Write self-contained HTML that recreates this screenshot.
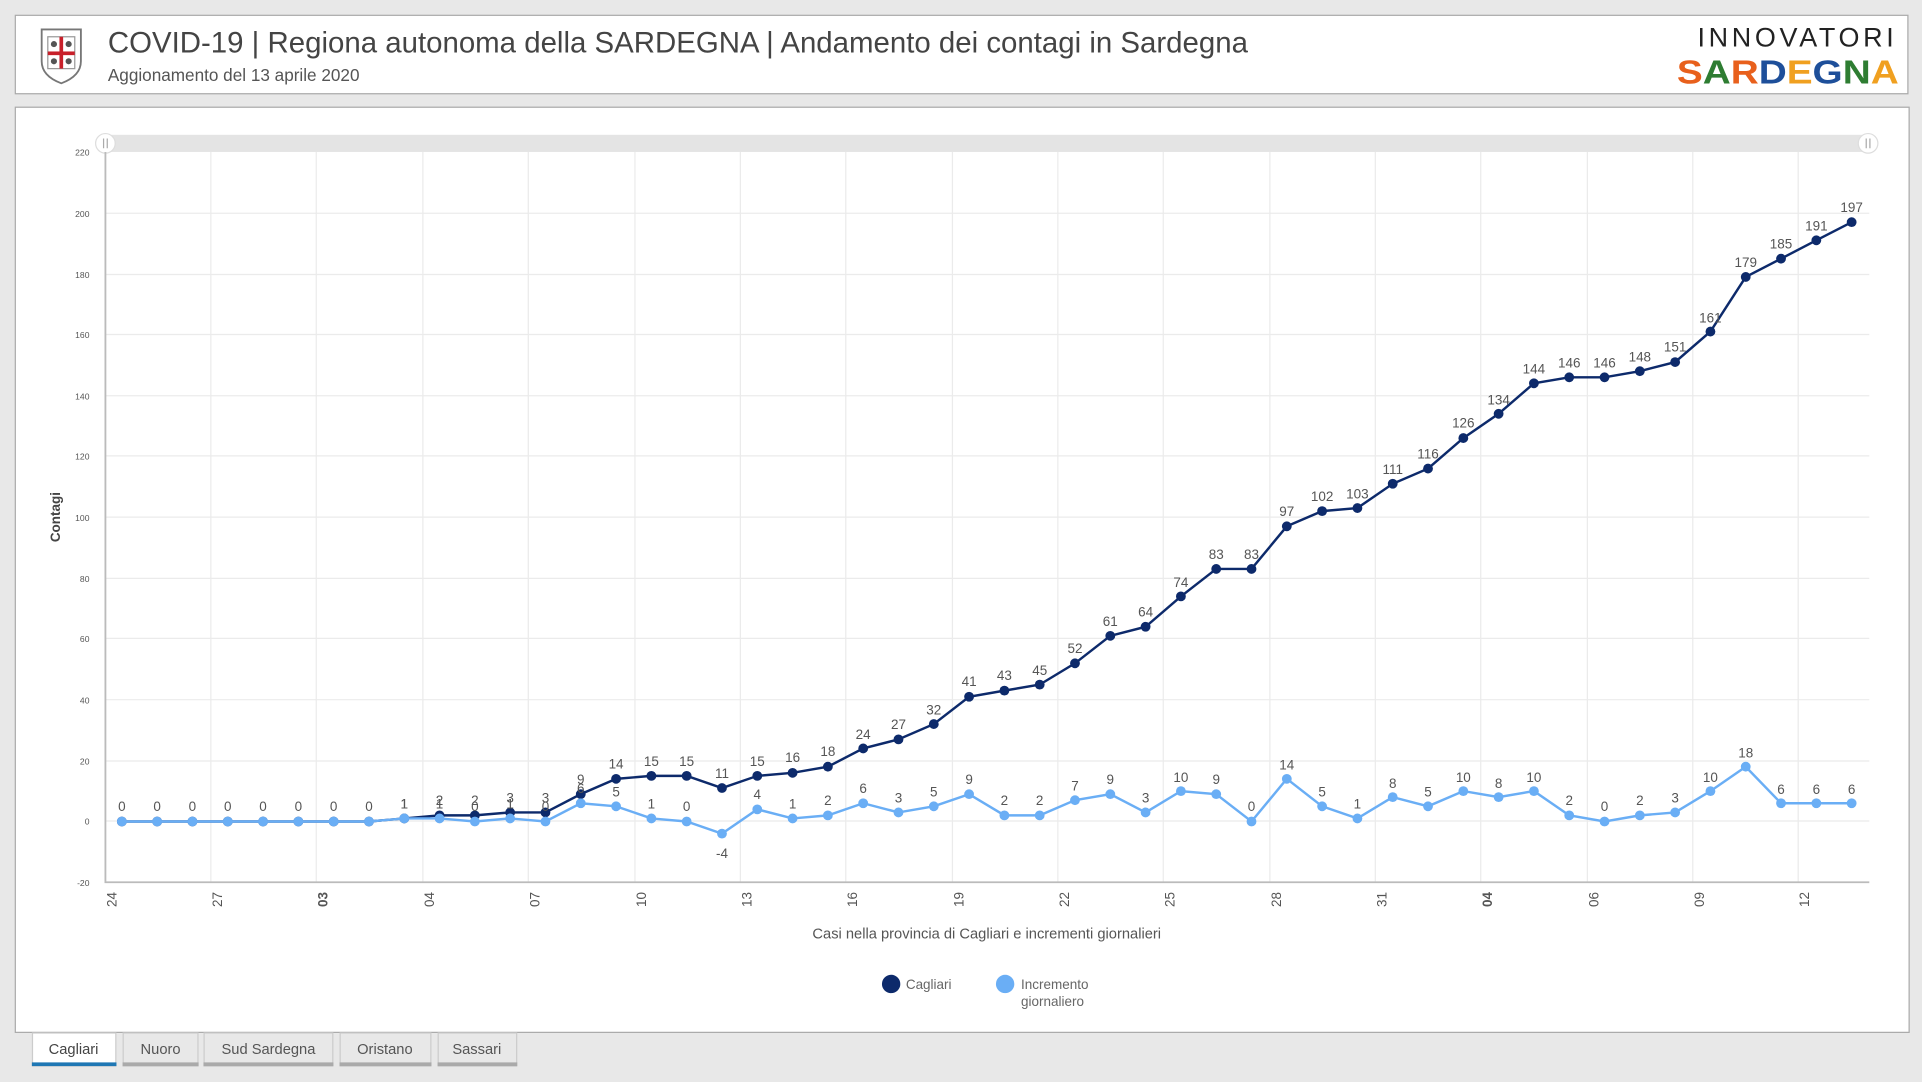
<!DOCTYPE html>
<html><head><meta charset="utf-8"><style>
html,body{margin:0;padding:0;background:#e8e8e8;}
svg{display:block;}
text{font-family:"Liberation Sans",sans-serif;}
</style></head><body>
<svg width="1922" height="1082" viewBox="0 0 1568 883" preserveAspectRatio="none" xmlns="http://www.w3.org/2000/svg">
<rect x="0" y="0" width="1568" height="883" fill="#e8e8e8"/>
<!-- header -->
<rect x="12.5" y="12.5" width="1544" height="64" fill="#fff" stroke="#aaa"/>
<g transform="translate(50,44)">
<path d="M-16,-20 L16,-20 L16,6 Q16,18 0,24 Q-16,18 -16,6 Z" fill="#fff" stroke="#777" stroke-width="1.5"/>
<rect x="-11" y="-14" width="22" height="26" fill="#fff" stroke="#999"/>
<rect x="-11" y="-2" width="22" height="3" fill="#c8202a"/><rect x="-1.5" y="-14" width="3" height="26" fill="#c8202a"/>
<circle cx="-6" cy="-8" r="2.5" fill="#555"/><circle cx="6" cy="-8" r="2.5" fill="#555"/><circle cx="-6" cy="6" r="2.5" fill="#555"/><circle cx="6" cy="6" r="2.5" fill="#555"/>
</g>
<text x="88" y="43" font-size="24" fill="#444">COVID-19 | Regiona autonoma della SARDEGNA | Andamento dei contagi in Sardegna</text>
<text x="88" y="66" font-size="14" fill="#555">Aggionamento del 13 aprile 2020</text>
<text x="1548" y="38" font-size="22" fill="#222" text-anchor="end" letter-spacing="3">INNOVATORI</text>
<text x="1368" y="68" font-size="27" font-weight="bold" textLength="181" lengthAdjust="spacingAndGlyphs"><tspan fill="#e8601c">S</tspan><tspan fill="#2e7d32">A</tspan><tspan fill="#e8601c">R</tspan><tspan fill="#1e4f9a">D</tspan><tspan fill="#f0a020">E</tspan><tspan fill="#1e4f9a">G</tspan><tspan fill="#2e7d32">N</tspan><tspan fill="#f0a020">A</tspan></text>
<!-- chart panel -->
<rect x="12.5" y="87.5" width="1545" height="755" fill="#fff" stroke="#aaa"/>
<rect x="85" y="110" width="1440" height="14" fill="#e4e4e4"/>
<circle cx="86" cy="117" r="8" fill="#fff" stroke="#ddd"/><circle cx="1524" cy="117" r="8" fill="#fff" stroke="#ddd"/>
<path d="M84.5,113v8M87.5,113v8M1522.5,113v8M1525.5,113v8" stroke="#aaa"/>
<!-- grid -->
<g stroke="#ebebeb" stroke-width="1">
<path d="M86,174H1525M86,224H1525M86,273H1525M86,323H1525M86,372H1525M86,422H1525M86,472H1525M86,521H1525M86,571H1525M86,621H1525M86,670H1525"/>
<path d="M172,124V720M258,124V720M345,124V720M431,124V720M518,124V720M604,124V720M690,124V720M777,124V720M863,124V720M949,124V720M1036,124V720M1122,124V720M1208,124V720M1295,124V720M1381,124V720M1467,124V720"/>
</g>
<path d="M86,124V720H1525" stroke="#bbb" stroke-width="1.5" fill="none"/>
<g font-size="7" fill="#555" text-anchor="end">
<text x="73" y="127">220</text><text x="73" y="177">200</text><text x="73" y="227">180</text><text x="73" y="276">160</text><text x="73" y="326">140</text><text x="73" y="375">120</text><text x="73" y="425">100</text><text x="73" y="475">80</text><text x="73" y="524">60</text><text x="73" y="574">40</text><text x="73" y="624">20</text><text x="73" y="673">0</text><text x="73" y="723">-20</text>
</g>
<g font-size="11" fill="#555">
<text transform="translate(95,728) rotate(-90)" text-anchor="end">24</text>
<text transform="translate(181,728) rotate(-90)" text-anchor="end">27</text>
<text transform="translate(267,728) rotate(-90)" text-anchor="end" font-weight="bold">03</text>
<text transform="translate(354,728) rotate(-90)" text-anchor="end">04</text>
<text transform="translate(440,728) rotate(-90)" text-anchor="end">07</text>
<text transform="translate(527,728) rotate(-90)" text-anchor="end">10</text>
<text transform="translate(613,728) rotate(-90)" text-anchor="end">13</text>
<text transform="translate(699,728) rotate(-90)" text-anchor="end">16</text>
<text transform="translate(786,728) rotate(-90)" text-anchor="end">19</text>
<text transform="translate(872,728) rotate(-90)" text-anchor="end">22</text>
<text transform="translate(958,728) rotate(-90)" text-anchor="end">25</text>
<text transform="translate(1045,728) rotate(-90)" text-anchor="end">28</text>
<text transform="translate(1131,728) rotate(-90)" text-anchor="end">31</text>
<text transform="translate(1217,728) rotate(-90)" text-anchor="end" font-weight="bold">04</text>
<text transform="translate(1304,728) rotate(-90)" text-anchor="end">06</text>
<text transform="translate(1390,728) rotate(-90)" text-anchor="end">09</text>
<text transform="translate(1476,728) rotate(-90)" text-anchor="end">12</text>
</g>
<text transform="translate(49,422) rotate(-90)" font-size="11" font-weight="bold" fill="#444" text-anchor="middle">Contagi</text>
<text x="805" y="766" font-size="12" fill="#555" text-anchor="middle">Casi nella provincia di Cagliari e incrementi giornalieri</text>
<!-- Cagliari series -->
<polyline fill="none" stroke="#0d2a6b" stroke-width="2" points="99.4,670.4 128.2,670.4 157,670.4 185.8,670.4 214.6,670.4 243.4,670.4 272.2,670.4 301,670.4 329.8,667.9 358.6,665.4 387.4,665.4 416.2,663 445,663 473.8,648.1 502.6,635.6 531.4,633.2 560.2,633.2 589,643.1 617.8,633.2 646.6,630.7 675.4,625.7 704.2,610.8 733,603.4 761.8,590.9 790.6,568.6 819.4,563.6 848.2,558.7 877,541.3 905.8,518.9 934.6,511.5 963.4,486.7 992.2,464.3 1021,464.3 1049.8,429.5 1078.6,417.1 1107.4,414.6 1136.2,394.8 1165,382.4 1193.8,357.5 1222.6,337.7 1251.4,312.8 1280.2,307.9 1309,307.9 1337.8,302.9 1366.6,295.5 1395.4,270.6 1424.2,226 1453,211.1 1481.8,196.1 1510.6,181.3"/>
<g fill="#0d2a6b">
<circle cx="99.4" cy="670.4" r="4"/><circle cx="128.2" cy="670.4" r="4"/><circle cx="157" cy="670.4" r="4"/><circle cx="185.8" cy="670.4" r="4"/><circle cx="214.6" cy="670.4" r="4"/><circle cx="243.4" cy="670.4" r="4"/><circle cx="272.2" cy="670.4" r="4"/><circle cx="301" cy="670.4" r="4"/><circle cx="329.8" cy="667.9" r="4"/><circle cx="358.6" cy="665.4" r="4"/><circle cx="387.4" cy="665.4" r="4"/><circle cx="416.2" cy="663" r="4"/><circle cx="445" cy="663" r="4"/><circle cx="473.8" cy="648.1" r="4"/><circle cx="502.6" cy="635.6" r="4"/><circle cx="531.4" cy="633.2" r="4"/><circle cx="560.2" cy="633.2" r="4"/><circle cx="589" cy="643.1" r="4"/><circle cx="617.8" cy="633.2" r="4"/><circle cx="646.6" cy="630.7" r="4"/><circle cx="675.4" cy="625.7" r="4"/><circle cx="704.2" cy="610.8" r="4"/><circle cx="733" cy="603.4" r="4"/><circle cx="761.8" cy="590.9" r="4"/><circle cx="790.6" cy="568.6" r="4"/><circle cx="819.4" cy="563.6" r="4"/><circle cx="848.2" cy="558.7" r="4"/><circle cx="877" cy="541.3" r="4"/><circle cx="905.8" cy="518.9" r="4"/><circle cx="934.6" cy="511.5" r="4"/><circle cx="963.4" cy="486.7" r="4"/><circle cx="992.2" cy="464.3" r="4"/><circle cx="1021" cy="464.3" r="4"/><circle cx="1049.8" cy="429.5" r="4"/><circle cx="1078.6" cy="417.1" r="4"/><circle cx="1107.4" cy="414.6" r="4"/><circle cx="1136.2" cy="394.8" r="4"/><circle cx="1165" cy="382.4" r="4"/><circle cx="1193.8" cy="357.5" r="4"/><circle cx="1222.6" cy="337.7" r="4"/><circle cx="1251.4" cy="312.8" r="4"/><circle cx="1280.2" cy="307.9" r="4"/><circle cx="1309" cy="307.9" r="4"/><circle cx="1337.8" cy="302.9" r="4"/><circle cx="1366.6" cy="295.5" r="4"/><circle cx="1395.4" cy="270.6" r="4"/><circle cx="1424.2" cy="226" r="4"/><circle cx="1453" cy="211.1" r="4"/><circle cx="1481.8" cy="196.1" r="4"/><circle cx="1510.6" cy="181.3" r="4"/>
</g>
<!-- Incremento series -->
<polyline fill="none" stroke="#6aaef5" stroke-width="2" points="99.4,670.4 128.2,670.4 157,670.4 185.8,670.4 214.6,670.4 243.4,670.4 272.2,670.4 301,670.4 329.8,667.9 358.6,667.9 387.4,670.4 416.2,667.9 445,670.4 473.8,655.5 502.6,658 531.4,667.9 560.2,670.4 589,680.3 617.8,660.5 646.6,667.9 675.4,665.4 704.2,655.5 733,663 761.8,658 790.6,648.1 819.4,665.4 848.2,665.4 877,653 905.8,648.1 934.6,663 963.4,645.6 992.2,648.1 1021,670.4 1049.8,635.6 1078.6,658 1107.4,667.9 1136.2,650.5 1165,658 1193.8,645.6 1222.6,650.5 1251.4,645.6 1280.2,665.4 1309,670.4 1337.8,665.4 1366.6,663 1395.4,645.6 1424.2,625.7 1453,655.5 1481.8,655.5 1510.6,655.5"/>
<g fill="#6aaef5">
<circle cx="99.4" cy="670.4" r="4"/><circle cx="128.2" cy="670.4" r="4"/><circle cx="157" cy="670.4" r="4"/><circle cx="185.8" cy="670.4" r="4"/><circle cx="214.6" cy="670.4" r="4"/><circle cx="243.4" cy="670.4" r="4"/><circle cx="272.2" cy="670.4" r="4"/><circle cx="301" cy="670.4" r="4"/><circle cx="329.8" cy="667.9" r="4"/><circle cx="358.6" cy="667.9" r="4"/><circle cx="387.4" cy="670.4" r="4"/><circle cx="416.2" cy="667.9" r="4"/><circle cx="445" cy="670.4" r="4"/><circle cx="473.8" cy="655.5" r="4"/><circle cx="502.6" cy="658" r="4"/><circle cx="531.4" cy="667.9" r="4"/><circle cx="560.2" cy="670.4" r="4"/><circle cx="589" cy="680.3" r="4"/><circle cx="617.8" cy="660.5" r="4"/><circle cx="646.6" cy="667.9" r="4"/><circle cx="675.4" cy="665.4" r="4"/><circle cx="704.2" cy="655.5" r="4"/><circle cx="733" cy="663" r="4"/><circle cx="761.8" cy="658" r="4"/><circle cx="790.6" cy="648.1" r="4"/><circle cx="819.4" cy="665.4" r="4"/><circle cx="848.2" cy="665.4" r="4"/><circle cx="877" cy="653" r="4"/><circle cx="905.8" cy="648.1" r="4"/><circle cx="934.6" cy="663" r="4"/><circle cx="963.4" cy="645.6" r="4"/><circle cx="992.2" cy="648.1" r="4"/><circle cx="1021" cy="670.4" r="4"/><circle cx="1049.8" cy="635.6" r="4"/><circle cx="1078.6" cy="658" r="4"/><circle cx="1107.4" cy="667.9" r="4"/><circle cx="1136.2" cy="650.5" r="4"/><circle cx="1165" cy="658" r="4"/><circle cx="1193.8" cy="645.6" r="4"/><circle cx="1222.6" cy="650.5" r="4"/><circle cx="1251.4" cy="645.6" r="4"/><circle cx="1280.2" cy="665.4" r="4"/><circle cx="1309" cy="670.4" r="4"/><circle cx="1337.8" cy="665.4" r="4"/><circle cx="1366.6" cy="663" r="4"/><circle cx="1395.4" cy="645.6" r="4"/><circle cx="1424.2" cy="625.7" r="4"/><circle cx="1453" cy="655.5" r="4"/><circle cx="1481.8" cy="655.5" r="4"/><circle cx="1510.6" cy="655.5" r="4"/>
</g>
<!-- Cagliari labels -->
<g font-size="11" fill="#555" text-anchor="middle">
<text x="99.4" y="662">0</text><text x="128.2" y="662">0</text><text x="157" y="662">0</text><text x="185.8" y="662">0</text><text x="214.6" y="662">0</text><text x="243.4" y="662">0</text><text x="272.2" y="662">0</text><text x="301" y="662">0</text><text x="329.8" y="660">1</text><text x="358.6" y="657">2</text><text x="387.4" y="657">2</text><text x="416.2" y="655">3</text><text x="445" y="655">3</text><text x="473.8" y="640">9</text><text x="502.6" y="627">14</text><text x="531.4" y="625">15</text><text x="560.2" y="625">15</text><text x="589" y="635">11</text><text x="617.8" y="625">15</text><text x="646.6" y="622">16</text><text x="675.4" y="617">18</text><text x="704.2" y="603">24</text><text x="733" y="595">27</text><text x="761.8" y="583">32</text><text x="790.6" y="560">41</text><text x="819.4" y="555">43</text><text x="848.2" y="551">45</text><text x="877" y="533">52</text><text x="905.8" y="511">61</text><text x="934.6" y="503">64</text><text x="963.4" y="479">74</text><text x="992.2" y="456">83</text><text x="1021" y="456">83</text><text x="1049.8" y="421">97</text><text x="1078.6" y="409">102</text><text x="1107.4" y="407">103</text><text x="1136.2" y="387">111</text><text x="1165" y="374">116</text><text x="1193.8" y="349">126</text><text x="1222.6" y="330">134</text><text x="1251.4" y="305">144</text><text x="1280.2" y="300">146</text><text x="1309" y="300">146</text><text x="1337.8" y="295">148</text><text x="1366.6" y="287">151</text><text x="1395.4" y="263">161</text><text x="1424.2" y="218">179</text><text x="1453" y="203">185</text><text x="1481.8" y="188">191</text><text x="1510.6" y="173">197</text>
</g>
<!-- Incremento labels -->
<g font-size="11" fill="#555" text-anchor="middle">
<text x="329.8" y="660">1</text><text x="358.6" y="660">1</text><text x="387.4" y="662">0</text><text x="416.2" y="660">1</text><text x="445" y="662">0</text><text x="473.8" y="647">6</text><text x="502.6" y="650">5</text><text x="531.4" y="660">1</text><text x="560.2" y="662">0</text><text x="589" y="700">-4</text><text x="617.8" y="652">4</text><text x="646.6" y="660">1</text><text x="675.4" y="657">2</text><text x="704.2" y="647">6</text><text x="733" y="655">3</text><text x="761.8" y="650">5</text><text x="790.6" y="640">9</text><text x="819.4" y="657">2</text><text x="848.2" y="657">2</text><text x="877" y="645">7</text><text x="905.8" y="640">9</text><text x="934.6" y="655">3</text><text x="963.4" y="638">10</text><text x="992.2" y="640">9</text><text x="1021" y="662">0</text><text x="1049.8" y="628">14</text><text x="1078.6" y="650">5</text><text x="1107.4" y="660">1</text><text x="1136.2" y="643">8</text><text x="1165" y="650">5</text><text x="1193.8" y="638">10</text><text x="1222.6" y="643">8</text><text x="1251.4" y="638">10</text><text x="1280.2" y="657">2</text><text x="1309" y="662">0</text><text x="1337.8" y="657">2</text><text x="1366.6" y="655">3</text><text x="1395.4" y="638">10</text><text x="1424.2" y="618">18</text><text x="1453" y="648">6</text><text x="1481.8" y="648">6</text><text x="1510.6" y="648">6</text>
</g>
<!-- legend -->
<circle cx="727" cy="803" r="7.5" fill="#0d2a6b"/>
<text x="739" y="807" font-size="11" fill="#666">Cagliari</text>
<circle cx="820" cy="803" r="7.5" fill="#6aaef5"/>
<text x="833" y="807" font-size="11" fill="#666">Incremento</text>
<text x="833" y="821" font-size="11" fill="#666">giornaliero</text>
<!-- tabs -->
<rect x="26.5" y="843" width="68" height="27" fill="#fff" stroke="#ccc"/>
<rect x="26" y="867" width="69" height="3" fill="#1f77b4"/>
<text x="60" y="860" font-size="12" fill="#444" text-anchor="middle">Cagliari</text>
<rect x="100.5" y="843" width="61" height="27" fill="#e8e8e8" stroke="#ccc"/><rect x="100" y="867" width="62" height="3" fill="#aaa"/>
<text x="131" y="860" font-size="12" fill="#555" text-anchor="middle">Nuoro</text>
<rect x="166.5" y="843" width="105" height="27" fill="#e8e8e8" stroke="#ccc"/><rect x="166" y="867" width="106" height="3" fill="#aaa"/>
<text x="219" y="860" font-size="12" fill="#555" text-anchor="middle">Sud Sardegna</text>
<rect x="277.5" y="843" width="74" height="27" fill="#e8e8e8" stroke="#ccc"/><rect x="277" y="867" width="75" height="3" fill="#aaa"/>
<text x="314" y="860" font-size="12" fill="#555" text-anchor="middle">Oristano</text>
<rect x="357.5" y="843" width="64" height="27" fill="#e8e8e8" stroke="#ccc"/><rect x="357" y="867" width="65" height="3" fill="#aaa"/>
<text x="389" y="860" font-size="12" fill="#555" text-anchor="middle">Sassari</text>
</svg>
</body></html>
